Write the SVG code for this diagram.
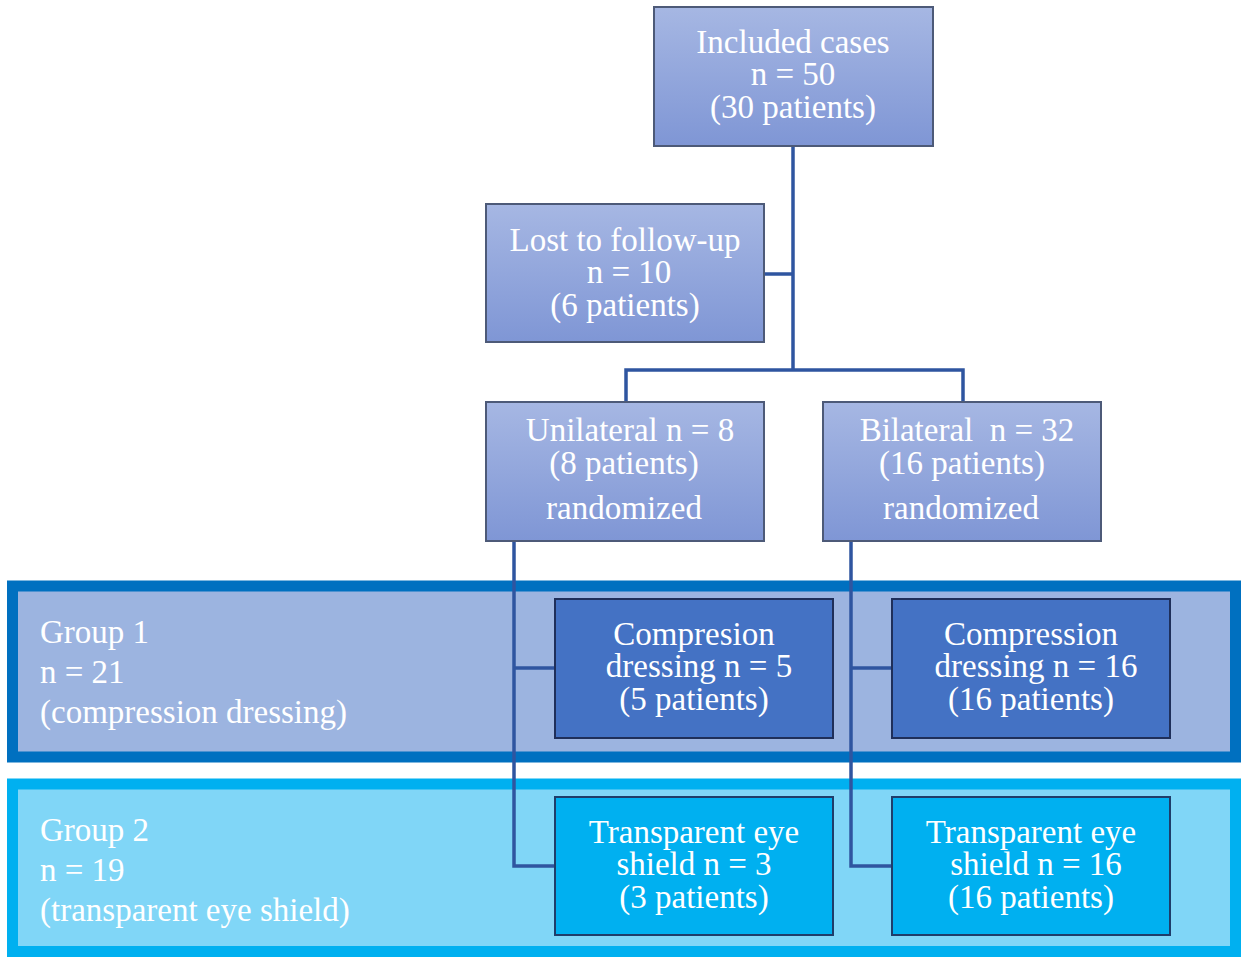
<svg xmlns="http://www.w3.org/2000/svg" width="1241" height="957" viewBox="0 0 1241 957">
<defs>
<linearGradient id="g" x1="0" y1="0" x2="0" y2="1">
<stop offset="0" stop-color="#a6b7e3"/>
<stop offset="1" stop-color="#7f96d5"/>
</linearGradient>
</defs>
<style>
text{font-family:"Liberation Serif","Times New Roman",serif;font-size:33px;fill:#ffffff;white-space:pre}
.c{text-anchor:middle}
.top{fill:url(#g);stroke:#4d5a78;stroke-width:2}
.cd{fill:#4472c4;stroke:#1f2f5a;stroke-width:2}
.ts{fill:#00b0f0;stroke:#1f3d6a;stroke-width:2}
.conn{fill:none;stroke:#2f55a0;stroke-width:3.5}
</style>
<rect width="1241" height="957" fill="#ffffff"/>
<g id="group1">
<rect x="12.5" y="586" width="1223" height="171" fill="#9cb4e0" stroke="#0070c0" stroke-width="11"/>
<text x="40" y="643">Group 1</text>
<text x="40" y="683">n = 21</text>
<text x="40" y="723">(compression dressing)</text>
</g>
<g id="group2">
<rect x="12.5" y="784" width="1223" height="167.5" fill="#80d6f7" stroke="#00b0f0" stroke-width="11"/>
<text x="40" y="841">Group 2</text>
<text x="40" y="881">n = 19</text>
<text x="40" y="921">(transparent eye shield)</text>
</g>
<g id="connectors">
<path class="conn" d="M793 146 V370 M764 274 H793 M626 402 V370 H963 V402"/>
<path class="conn" d="M514 541 V866 H555 M514 668 H555"/>
<path class="conn" d="M851 541 V866 H892 M851 668 H892"/>
</g>
<g id="included">
<rect class="top" x="654" y="7" width="279" height="139"/>
<text class="c" x="793" y="53">Included cases</text>
<text class="c" x="793" y="85">n = 50</text>
<text class="c" x="793" y="118">(30 patients)</text>
</g>
<g id="lost">
<rect class="top" x="486" y="204" width="278" height="138"/>
<text class="c" x="625" y="251">Lost to follow-up</text>
<text class="c" x="629" y="283">n = 10</text>
<text class="c" x="625" y="316">(6 patients)</text>
</g>
<g id="unilateral">
<rect class="top" x="486" y="402" width="278" height="139"/>
<text class="c" x="630" y="441">Unilateral n = 8</text>
<text class="c" x="624" y="474">(8 patients)</text>
<text class="c" x="624" y="519">randomized</text>
</g>
<g id="bilateral">
<rect class="top" x="823" y="402" width="278" height="139"/>
<text class="c" x="967" y="441">Bilateral  n = 32</text>
<text class="c" x="962" y="474">(16 patients)</text>
<text class="c" x="961" y="519">randomized</text>
</g>
<g id="comp1">
<rect class="cd" x="555" y="599" width="278" height="139"/>
<text class="c" x="694" y="645">Compresion</text>
<text class="c" x="699" y="677">dressing n = 5</text>
<text class="c" x="694" y="710">(5 patients)</text>
</g>
<g id="comp2">
<rect class="cd" x="892" y="599" width="278" height="139"/>
<text class="c" x="1031" y="645">Compression</text>
<text class="c" x="1036" y="677">dressing n = 16</text>
<text class="c" x="1031" y="710">(16 patients)</text>
</g>
<g id="shield1">
<rect class="ts" x="555" y="797" width="278" height="138"/>
<text class="c" x="694" y="843">Transparent eye</text>
<text class="c" x="694" y="875">shield n = 3</text>
<text class="c" x="694" y="908">(3 patients)</text>
</g>
<g id="shield2">
<rect class="ts" x="892" y="797" width="278" height="138"/>
<text class="c" x="1031" y="843">Transparent eye</text>
<text class="c" x="1036" y="875">shield n = 16</text>
<text class="c" x="1031" y="908">(16 patients)</text>
</g>
</svg>
